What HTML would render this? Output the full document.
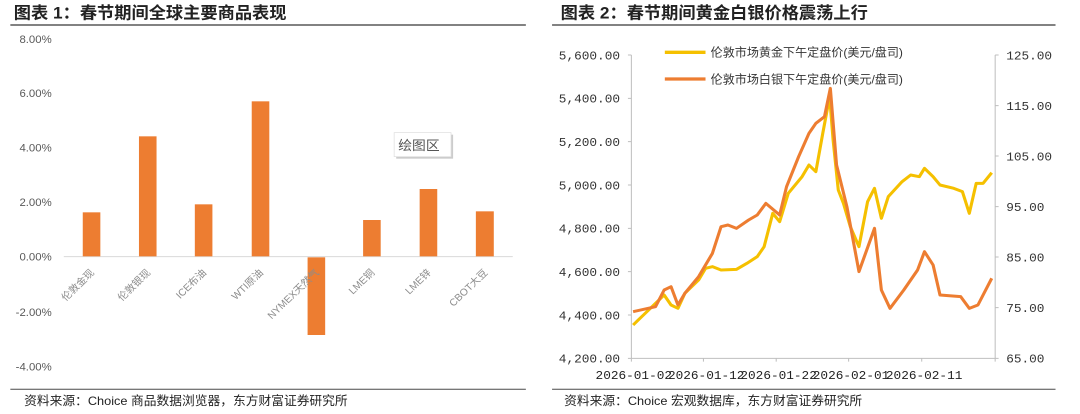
<!DOCTYPE html>
<html><head><meta charset="utf-8"><style>
html,body{margin:0;padding:0;background:#fff;width:1080px;height:414px;overflow:hidden}
svg{position:absolute;top:0}
text{font-family:"Liberation Sans","Noto Sans CJK SC",sans-serif}
.m text{font-family:"Liberation Mono","Noto Sans CJK SC",monospace}
</style></head><body>
<svg style="left:0" width="540" height="414" viewBox="0 0 1566 1242" preserveAspectRatio="none">
<text x="40" y="56" font-size="50" font-weight="bold" fill="#222">图表 1：春节期间全球主要商品表现</text>
<rect x="30" y="73" width="1495" height="4" fill="#444"/>
<g font-size="33" fill="#595959" text-anchor="end">
<text x="150" y="129">8.00%</text><text x="150" y="291">6.00%</text><text x="150" y="455">4.00%</text>
<text x="150" y="618">2.00%</text><text x="150" y="782">0.00%</text><text x="150" y="948">-2.00%</text><text x="150" y="1111">-4.00%</text>
</g>
<line x1="185" y1="770" x2="1487" y2="770" stroke="#d9d9d9" stroke-width="3"/>
<g fill="#ED7D31">
<rect x="240" y="637" width="51" height="132"/><rect x="403" y="409" width="51" height="360"/>
<rect x="565" y="613" width="51" height="156"/><rect x="730" y="304" width="51" height="465"/>
<rect x="892" y="772" width="51" height="233"/><rect x="1053" y="660" width="51" height="109"/>
<rect x="1217" y="567" width="51" height="202"/><rect x="1380" y="634" width="52" height="135"/>
</g>
<g font-size="30" fill="#8c8c8c" text-anchor="end">
<text transform="translate(275,820) rotate(-45)">伦敦金现</text>
<text transform="translate(438,820) rotate(-45)">伦敦银现</text>
<text transform="translate(600,820) rotate(-45)">ICE布油</text>
<text transform="translate(765,820) rotate(-45)">WTI原油</text>
<text transform="translate(927,820) rotate(-45)">NYMEX天然气</text>
<text transform="translate(1088,820) rotate(-45)">LME铜</text>
<text transform="translate(1252,820) rotate(-45)">LME锌</text>
<text transform="translate(1416,820) rotate(-45)">CBOT大豆</text>
</g>
<rect x="1149" y="404" width="165" height="72" fill="#ccc"/>
<rect x="1143" y="398" width="165" height="72" fill="#fff" stroke="#ddd" stroke-width="2"/>
<text x="1155" y="450" font-size="40" fill="#555">绘图区</text>
<rect x="30" y="1166" width="1495" height="4" fill="#777"/>
<text x="70" y="1215" font-size="37" fill="#222">资料来源：Choice 商品数据浏览器，东方财富证券研究所</text>
</svg>
<svg style="left:540px" width="540" height="414" viewBox="0 0 1566 1242" preserveAspectRatio="none">
<text x="60" y="56" font-size="50" font-weight="bold" fill="#222">图表 2：春节期间黄金白银价格震荡上行</text>
<rect x="35" y="73" width="1460" height="4" fill="#444"/>
<g stroke="#bfbfbf" stroke-width="3" fill="none">
<line x1="265" y1="165" x2="265" y2="1075"/><line x1="1320" y1="165" x2="1320" y2="1075"/>
<line x1="265" y1="1075" x2="1320" y2="1075"/>
<path d="M255 165H265M255 295H265M255 425H265M255 555H265M255 685H265M255 815H265M255 945H265M255 1075H265"/>
<path d="M1320 165H1330M1320 317H1330M1320 468H1330M1320 620H1330M1320 771H1330M1320 923H1330M1320 1075H1330"/>
<path d="M265 1075V1085M474 1075V1085M685 1075V1085M895 1075V1085M1107 1075V1085M1320 1075V1085"/>
</g>
<g font-size="37" fill="#333" text-anchor="end" class="m">
<text x="232" y="178">5,600.00</text><text x="232" y="308">5,400.00</text><text x="232" y="438">5,200.00</text>
<text x="232" y="568">5,000.00</text><text x="232" y="698">4,800.00</text><text x="232" y="828">4,600.00</text>
<text x="232" y="958">4,400.00</text><text x="232" y="1088">4,200.00</text>
</g>
<g font-size="37" fill="#333" class="m">
<text x="1352" y="178">125.00</text><text x="1352" y="330">115.00</text><text x="1352" y="481">105.00</text>
<text x="1352" y="633">95.00</text><text x="1352" y="784">85.00</text><text x="1352" y="936">75.00</text><text x="1352" y="1088">65.00</text>
</g>
<g font-size="37" fill="#222" text-anchor="middle" class="m">
<text x="272" y="1137">2026-01-02</text><text x="482" y="1137">2026-01-12</text><text x="692" y="1137">2026-01-22</text>
<text x="902" y="1137">2026-02-01</text><text x="1114" y="1137">2026-02-11</text>
</g>
<line x1="362" y1="157" x2="480" y2="157" stroke="#F5C000" stroke-width="10"/>
<line x1="362" y1="237" x2="480" y2="237" stroke="#ED7D31" stroke-width="10"/>
<text x="495" y="170" font-size="35" fill="#333">伦敦市场黄金下午定盘价(美元/盘司)</text>
<text x="495" y="250" font-size="35" fill="#333">伦敦市场白银下午定盘价(美元/盘司)</text>
<polyline fill="none" stroke="#F5C000" stroke-width="9" stroke-linejoin="round" points="270,975 300,945 340,905 360,885 380,915 400,925 420,880 460,840 480,805 500,800 525,810 570,808 600,790 630,770 650,740 675,640 695,665 720,580 760,530 780,495 800,515 820,400 840,290 850,420 865,570 880,610 900,680 925,740 950,605 970,565 990,655 1010,590 1050,545 1075,525 1100,530 1115,505 1140,530 1160,555 1200,565 1225,575 1245,640 1265,550 1285,550 1310,518"/>
<polyline fill="none" stroke="#ED7D31" stroke-width="9" stroke-linejoin="round" points="270,935 335,920 360,870 380,860 400,915 420,880 460,830 500,760 525,680 545,675 570,685 605,660 630,645 655,610 695,645 715,560 750,470 780,400 800,370 825,350 842,265 860,495 890,620 925,815 970,685 990,870 1015,925 1055,870 1095,810 1115,755 1140,795 1160,885 1220,890 1245,925 1270,915 1310,835"/>
<rect x="35" y="1166" width="1460" height="4" fill="#777"/>
<text x="70" y="1215" font-size="37" fill="#222">资料来源：Choice 宏观数据库，东方财富证券研究所</text>
</svg>
</body></html>
